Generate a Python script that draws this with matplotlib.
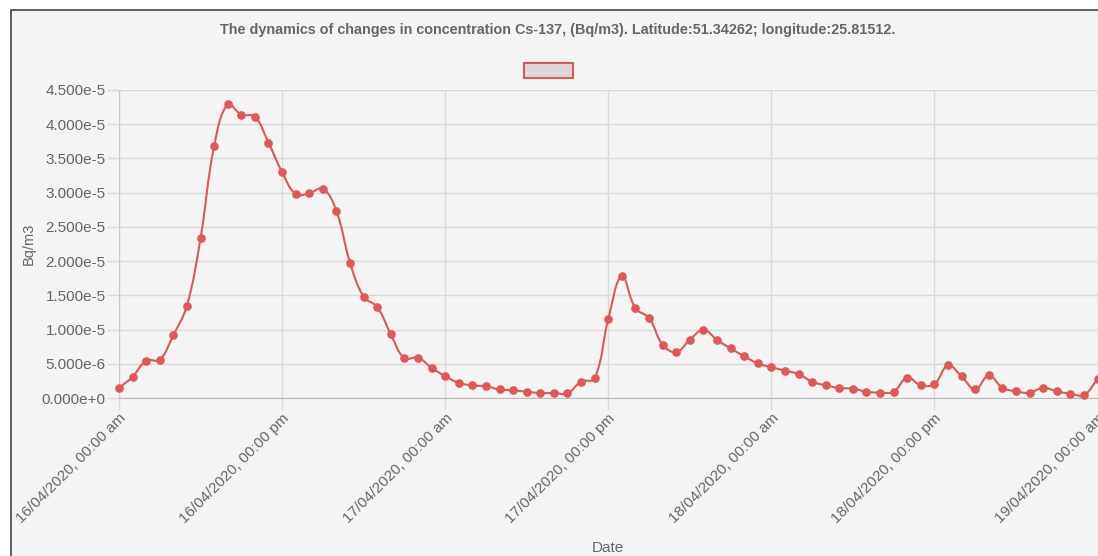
import numpy as np
import matplotlib
matplotlib.use("Agg")
import matplotlib.pyplot as plt
from matplotlib.path import Path
from matplotlib.patches import PathPatch, Rectangle
from matplotlib.ticker import FuncFormatter

# Hourly Cs-137 concentration, Bq/m3, from 16/04/2020 00:00 to 19/04/2020 00:00
hours = list(range(73))
concentration = [
    1.46e-6, 3.11e-6, 5.45e-6, 5.60e-6, 9.20e-6, 1.35e-5, 2.335e-5, 3.68e-5,
    4.29e-5, 4.14e-5, 4.11e-5, 3.73e-5, 3.30e-5, 2.98e-5, 2.99e-5, 3.06e-5,
    2.73e-5, 1.975e-5, 1.48e-5, 1.33e-5, 9.30e-6, 5.80e-6, 5.90e-6, 4.40e-6,
    3.20e-6, 2.20e-6, 1.85e-6, 1.70e-6, 1.26e-6, 1.12e-6, 9.20e-7, 7.30e-7,
    7.30e-7, 6.80e-7, 2.38e-6, 2.87e-6, 1.153e-5, 1.78e-5, 1.31e-5, 1.17e-5,
    7.80e-6, 6.70e-6, 8.50e-6, 9.97e-6, 8.50e-6, 7.25e-6, 6.10e-6, 5.06e-6,
    4.50e-6, 4.00e-6, 3.50e-6, 2.38e-6, 1.85e-6, 1.46e-6, 1.36e-6, 9.20e-7,
    7.80e-7, 9.20e-7, 2.97e-6, 1.85e-6, 2.04e-6, 4.77e-6, 3.16e-6, 1.26e-6,
    3.30e-6, 1.50e-6, 9.70e-7, 7.80e-7, 1.50e-6, 9.70e-7, 6.30e-7, 4.40e-7,
    2.72e-6,
]
tick_labels = [
    "16/04/2020, 00:00 am", "16/04/2020, 00:00 pm",
    "17/04/2020, 00:00 am", "17/04/2020, 00:00 pm",
    "18/04/2020, 00:00 am", "18/04/2020, 00:00 pm",
    "19/04/2020, 00:00 am",
]
title = "The dynamics of changes in concentration Cs-137, (Bq/m3). Latitude:51.34262; longitude:25.81512."

LINE = "#e15759"
TEXT = "#666666"
BG = "#f4f4f4"
GRID = "#dadada"

plt.rcParams["font.family"] = ["Liberation Sans", "DejaVu Sans"]

W, H = 1098, 556
fig = plt.figure(figsize=(W / 100, H / 100), dpi=100, facecolor="white")

# framed panel behind the chart
fig.patches.append(Rectangle((10.5 / W, -0.05), 1.2, (H - 10.5) / H + 0.05,
                             transform=fig.transFigure, facecolor=BG,
                             edgecolor="#444444", linewidth=1.2, zorder=-5))

ax = fig.add_axes([119 / W, (H - 398) / H, (1097.5 - 119) / W, (398 - 90) / H])
ax.set_zorder(1)
ax.set_facecolor("none")
ax.set_xlim(0, 72)
ax.set_ylim(0, 4.5e-5)

ax.set_xticks(range(0, 73, 12))
ax.set_xticklabels(tick_labels, rotation=45, ha="right", va="top",
                   rotation_mode="anchor", color=TEXT, fontsize=11)
ax.set_yticks(np.arange(0, 4.5e-5 + 1e-12, 5e-6))


def sci(v, _pos):
    mant, exp = f"{v:.3e}".split("e")
    return f"{mant}e{int(exp):+d}"


ax.yaxis.set_major_formatter(FuncFormatter(sci))
ax.tick_params(axis="y", length=8.5, width=1, color=GRID, pad=1, labelsize=11,
               labelcolor=TEXT)
ax.tick_params(axis="x", length=8.5, width=1, color=GRID, pad=1)
ax.grid(True, color=GRID, linewidth=1)
ax.set_axisbelow(True)
for side in ("top", "right"):
    ax.spines[side].set_visible(False)
ax.spines["left"].set_color("#c8c8c8")
ax.spines["bottom"].set_color("#b8b8b8")


def spline_path(ax, x, y, tension=0.4):
    pts = ax.transData.transform(np.column_stack([x, y]))
    n = len(pts)
    before, after = [], []
    for i in range(n):
        p0 = pts[i - 1] if i > 0 else pts[i]
        p1 = pts[i]
        p2 = pts[i + 1] if i < n - 1 else pts[i]
        d01 = np.hypot(*(p1 - p0))
        d12 = np.hypot(*(p2 - p1))
        tot = d01 + d12
        s01 = d01 / tot if tot else 0.0
        s12 = d12 / tot if tot else 0.0
        before.append(p1 - tension * s01 * (p2 - p0))
        after.append(p1 + tension * s12 * (p2 - p0))
    verts = [pts[0]]
    codes = [Path.MOVETO]
    for i in range(1, n):
        verts += [after[i - 1], before[i], pts[i]]
        codes += [Path.CURVE4] * 3
    verts = ax.transData.inverted().transform(np.array(verts))
    return Path(verts, codes)


ax.add_patch(PathPatch(spline_path(ax, hours, concentration), facecolor="none",
                       edgecolor=LINE, linewidth=1.5, zorder=3))
ax.plot(hours, concentration, "o", ms=5.2, color=LINE, zorder=4, clip_on=False)

ax.set_xlabel("Date", color=TEXT, fontsize=11)
ax.xaxis.set_label_coords(0.5, -(548 - 398) / (398 - 90), transform=ax.transAxes)
ax.xaxis.label.set_va("center")
ax.set_ylabel("Bq/m3", color=TEXT, fontsize=10.5)
ax.yaxis.set_label_coords(29 / W, 1 - (244 / H), transform=fig.transFigure)
ax.yaxis.label.set_va("center")

fig.text(558 / W, 1 - 30 / H, title, ha="center", va="center", fontsize=10.4,
         fontweight="bold", color=TEXT)

# dataset legend swatch
fig.patches.append(Rectangle((524 / W, 1 - 77.5 / H), 49 / W, 15 / H,
                             transform=fig.transFigure, facecolor="#d9d9d9",
                             edgecolor=LINE, linewidth=1.5, zorder=2))

fig.savefig("out.png", dpi=100, facecolor=fig.get_facecolor())
